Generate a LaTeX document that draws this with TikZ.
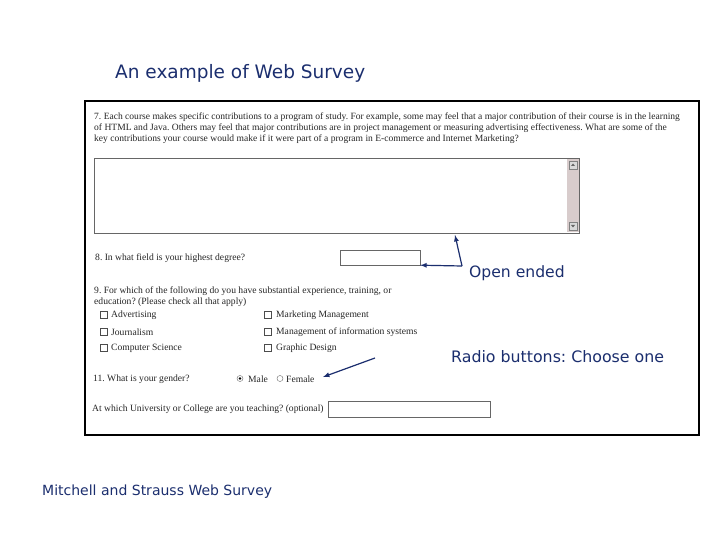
\documentclass[tikz,border=0pt]{standalone}
\usepackage{fontspec}
\usetikzlibrary{calc}
\setmainfont{Liberation Serif}
\newfontfamily\slidefont{DejaVu Sans}
\definecolor{navy}{HTML}{1B2E6E}
\definecolor{scroll}{HTML}{D8CCCC}
\begin{document}
\frenchspacing
\begin{tikzpicture}[x=1pt,y=-1pt,
  big/.style={font=\slidefont\fontsize{14}{16}\selectfont,text=navy,inner sep=0,anchor=west},
  form/.style={font=\frenchspacing\fontsize{9.6}{11.3}\selectfont,inner sep=0,anchor=west,text=black!85},
  cbox/.style={draw=black!70,minimum size=7,inner sep=0,fill=white},
  field/.style={draw=black!60,fill=white,inner sep=0},
  sbtn/.style={draw=black!50,fill=black!15,minimum size=8,inner sep=0},
  arr/.style={draw=navy,line width=1.2,-latex}]
\useasboundingbox (0,0) rectangle (720,540);
\node[big,font=\slidefont\fontsize{18.5}{20}\selectfont] (title) at (115,73) {An example of Web Survey};
\node[big] (foot) at (42,492) {Mitchell and Strauss Web Survey};
\draw[line width=2.5,fill=white] (85,101) rectangle (699,435);
\node[form,align=left,font=\fontsize{9.55}{11.3}\selectfont] (q7) at (94,128) {7. Each course makes specific contributions to a program of study. For example, some may feel that a major contribution of their course is in the learning\\ of HTML and Java. Others may feel that major contributions are in project management or measuring advertising effectiveness. What are some of the\\ key contributions your course would make if it were part of a program in E-commerce and Internet Marketing?};
\draw[draw=black!60,fill=white] (94,158) rectangle (579,233);
\fill[scroll] (567,159) rectangle (578.5,232);
\node[sbtn] (up) at (573,165) {};
\node[sbtn] (dn) at (573,226) {};
\fill[black!60] ($(up)+(-2,1)$) -- ($(up)+(2,1)$) -- ($(up)+(0,-1.5)$) -- cycle;
\fill[black!60] ($(dn)+(-2,-1)$) -- ($(dn)+(2,-1)$) -- ($(dn)+(0,1.5)$) -- cycle;
\coordinate (ta) at (455,235);
\node[form] (q8) at (95,258) {8. In what field is your highest degree?};
\node[field,minimum width=80,minimum height=15] (f8) at (380,257.5) {};
\node[big,font=\slidefont\fontsize{15.6}{17}\selectfont] (open) at (469,273) {Open ended};
\coordinate (oa) at (462,266);
\draw[arr] (oa) -- (ta);
\draw[arr] (oa) -- (f8.south east);
\node[form,align=left] (q9) at (94,296.5) {9. For which of the following do you have substantial experience, training, or\\ education? (Please check all that apply)};
\foreach \y/\a/\b in {315/Advertising/Marketing Management,332/Journalism/Management of information systems,348/Computer Science/Graphic Design}{
  \node[cbox] (ca\y) at (104,\y) {};
  \node[form] at (111,\y) {\a};
  \node[cbox] (cb\y) at (268,\y) {};
  \node[form] at (276,\y) {\b};
}
\node[big,font=\slidefont\fontsize{15.8}{17}\selectfont] (radio) at (451,357) {Radio buttons: Choose one};
\node[form] (q11) at (93,379) {11. What is your gender?};
\node[draw=black!60,circle,minimum size=6,inner sep=0] (rm) at (240,378.5) {};
\fill (rm) circle (1.4);
\node[form] (male) at (248,379) {Male};
\node[draw=black!60,circle,minimum size=6,inner sep=0] (rf) at (280,378.5) {};
\node[form] (female) at (286,379) {Female};
\coordinate (ra) at (375,358);
\draw[arr] (ra) -- (323,377);
\node[form] (qa) at (92,409) {At which University or College are you teaching? (optional)};
\node[field,minimum width=162,minimum height=16] (fa) at (409,409) {};
\end{tikzpicture}
\end{document}
